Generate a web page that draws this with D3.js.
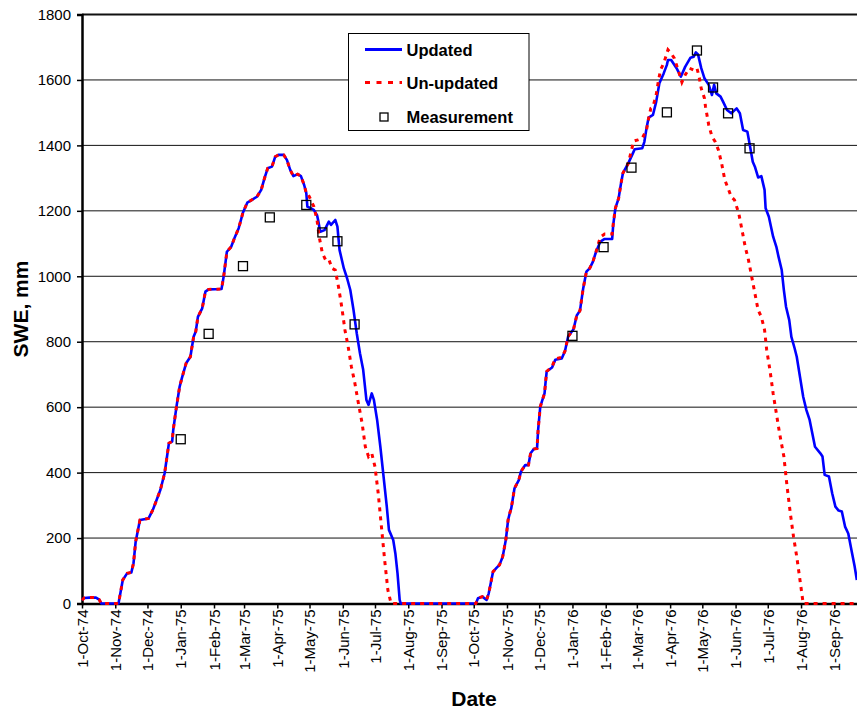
<!DOCTYPE html>
<html>
<head>
<meta charset="utf-8">
<script src="https://cdn.jsdelivr.net/npm/d3@7"></script>
<style>
  body { margin: 0; background: #fff; }
  svg { display: block; font-family: "Liberation Sans", Arial, sans-serif; }
</style>
</head>
<body>
<svg id="chart" width="857" height="713"></svg>
<script>
const parseDate = d3.timeParse("%Y-%m-%d");

// SWE (mm), [date, value]
const updated = [
  ["1974-10-01", 10], ["1974-10-03", 17], ["1974-10-08", 18], ["1974-10-14", 18], ["1974-10-17", 12], ["1974-10-19", 0],
  ["1974-11-04", 0], ["1974-11-08", 72], ["1974-11-12", 92], ["1974-11-16", 95], ["1974-11-18", 123], ["1974-11-20", 189],
  ["1974-11-24", 255], ["1974-12-02", 260], ["1974-12-06", 286], ["1974-12-13", 347], ["1974-12-17", 398], ["1974-12-19", 444],
  ["1974-12-21", 490], ["1974-12-24", 495], ["1974-12-25", 530], ["1974-12-28", 601], ["1974-12-31", 663], ["1975-01-02", 688],
  ["1975-01-06", 734], ["1975-01-10", 754], ["1975-01-13", 815], ["1975-01-15", 831], ["1975-01-17", 876], ["1975-01-21", 902],
  ["1975-01-24", 953], ["1975-01-27", 960], ["1975-02-08", 961], ["1975-02-10", 999], ["1975-02-13", 1075], ["1975-02-17", 1090],
  ["1975-02-20", 1116], ["1975-02-24", 1147], ["1975-02-28", 1195], ["1975-03-04", 1225], ["1975-03-08", 1233], ["1975-03-13", 1243],
  ["1975-03-17", 1264], ["1975-03-20", 1299], ["1975-03-23", 1330], ["1975-03-27", 1335], ["1975-03-30", 1365], ["1975-04-02", 1371],
  ["1975-04-07", 1371], ["1975-04-10", 1355], ["1975-04-13", 1325], ["1975-04-16", 1306], ["1975-04-20", 1312], ["1975-04-23", 1306],
  ["1975-04-26", 1279], ["1975-04-28", 1254], ["1975-04-29", 1213], ["1975-05-02", 1208], ["1975-05-05", 1203], ["1975-05-08", 1187],
  ["1975-05-09", 1172], ["1975-05-11", 1136], ["1975-05-15", 1141], ["1975-05-19", 1167], ["1975-05-21", 1157], ["1975-05-25", 1172],
  ["1975-05-27", 1152], ["1975-05-29", 1080], ["1975-06-02", 1024], ["1975-06-05", 994], ["1975-06-08", 958], ["1975-06-11", 897],
  ["1975-06-14", 826], ["1975-06-17", 765], ["1975-06-20", 714], ["1975-06-23", 622], ["1975-06-25", 607], ["1975-06-28", 642],
  ["1975-06-30", 622], ["1975-07-03", 561], ["1975-07-06", 479], ["1975-07-09", 388], ["1975-07-12", 296], ["1975-07-14", 225],
  ["1975-07-18", 194], ["1975-07-20", 153], ["1975-07-22", 92], ["1975-07-24", 11], ["1975-07-25", 0],
  ["1975-10-03", 0], ["1975-10-05", 16], ["1975-10-09", 21], ["1975-10-13", 11], ["1975-10-15", 31], ["1975-10-19", 97],
  ["1975-10-22", 108], ["1975-10-25", 118], ["1975-10-28", 143], ["1975-10-31", 196], ["1975-11-02", 255], ["1975-11-04", 281],
  ["1975-11-05", 291], ["1975-11-08", 352], ["1975-11-12", 377], ["1975-11-14", 403], ["1975-11-18", 423], ["1975-11-21", 423],
  ["1975-11-23", 459], ["1975-11-26", 472], ["1975-11-29", 474], ["1975-11-30", 530], ["1975-12-02", 601], ["1975-12-04", 622],
  ["1975-12-06", 642], ["1975-12-07", 678], ["1975-12-08", 709], ["1975-12-13", 721], ["1975-12-16", 745], ["1975-12-22", 749],
  ["1975-12-25", 771], ["1975-12-28", 816], ["1976-01-02", 838], ["1976-01-05", 880], ["1976-01-08", 895], ["1976-01-11", 963],
  ["1976-01-14", 1014], ["1976-01-17", 1024], ["1976-01-20", 1044], ["1976-01-23", 1075], ["1976-01-27", 1106], ["1976-01-31", 1114],
  ["1976-02-07", 1114], ["1976-02-08", 1157], ["1976-02-10", 1208], ["1976-02-13", 1238], ["1976-02-15", 1279], ["1976-02-17", 1315],
  ["1976-02-22", 1345], ["1976-02-27", 1381], ["1976-02-28", 1388], ["1976-03-06", 1391], ["1976-03-08", 1411], ["1976-03-10", 1452],
  ["1976-03-12", 1485], ["1976-03-16", 1493], ["1976-03-19", 1533], ["1976-03-22", 1590], ["1976-03-26", 1620], ["1976-03-29", 1646],
  ["1976-03-30", 1661], ["1976-04-02", 1661], ["1976-04-07", 1636], ["1976-04-11", 1610], ["1976-04-15", 1640], ["1976-04-20", 1668],
  ["1976-04-23", 1671], ["1976-04-25", 1684], ["1976-04-27", 1678], ["1976-04-30", 1636], ["1976-05-03", 1605], ["1976-05-07", 1585],
  ["1976-05-10", 1554], ["1976-05-12", 1585], ["1976-05-14", 1559], ["1976-05-18", 1549], ["1976-05-21", 1529], ["1976-05-24", 1508],
  ["1976-05-28", 1498], ["1976-06-02", 1513], ["1976-06-05", 1498], ["1976-06-08", 1447], ["1976-06-12", 1442], ["1976-06-14", 1406],
  ["1976-06-17", 1350], ["1976-06-19", 1335], ["1976-06-22", 1302], ["1976-06-25", 1306], ["1976-06-28", 1264], ["1976-06-29", 1208],
  ["1976-07-02", 1182], ["1976-07-06", 1121], ["1976-07-09", 1090], ["1976-07-11", 1060], ["1976-07-14", 1019], ["1976-07-16", 958],
  ["1976-07-18", 907], ["1976-07-21", 866], ["1976-07-23", 815], ["1976-07-26", 780], ["1976-07-28", 754], ["1976-07-31", 693],
  ["1976-08-03", 632], ["1976-08-06", 591], ["1976-08-09", 561], ["1976-08-14", 479], ["1976-08-19", 459], ["1976-08-21", 449],
  ["1976-08-23", 393], ["1976-08-27", 388], ["1976-08-30", 337], ["1976-09-02", 296], ["1976-09-05", 284], ["1976-09-08", 281],
  ["1976-09-11", 235], ["1976-09-14", 214], ["1976-09-17", 163], ["1976-09-20", 112], ["1976-09-22", 72]
];

const unupdated = [
  ["1974-10-01", 10], ["1974-10-03", 17], ["1974-10-08", 18], ["1974-10-14", 18], ["1974-10-17", 12], ["1974-10-19", 0],
  ["1974-11-04", 0], ["1974-11-08", 72], ["1974-11-12", 92], ["1974-11-16", 95], ["1974-11-18", 123], ["1974-11-20", 189],
  ["1974-11-24", 255], ["1974-12-02", 260], ["1974-12-06", 286], ["1974-12-13", 347], ["1974-12-17", 398], ["1974-12-19", 444],
  ["1974-12-21", 490], ["1974-12-24", 495], ["1974-12-25", 530], ["1974-12-28", 601], ["1974-12-31", 663], ["1975-01-02", 688],
  ["1975-01-06", 734], ["1975-01-10", 754], ["1975-01-13", 815], ["1975-01-15", 831], ["1975-01-17", 876], ["1975-01-21", 902],
  ["1975-01-24", 953], ["1975-01-27", 960], ["1975-02-08", 961], ["1975-02-10", 999], ["1975-02-13", 1075], ["1975-02-17", 1090],
  ["1975-02-20", 1116], ["1975-02-24", 1147], ["1975-02-28", 1195], ["1975-03-04", 1225], ["1975-03-08", 1233], ["1975-03-13", 1243],
  ["1975-03-17", 1264], ["1975-03-20", 1299], ["1975-03-23", 1330], ["1975-03-27", 1335], ["1975-03-30", 1365], ["1975-04-02", 1371],
  ["1975-04-07", 1371], ["1975-04-10", 1355], ["1975-04-13", 1325], ["1975-04-16", 1306], ["1975-04-20", 1312], ["1975-04-23", 1306],
  ["1975-04-26", 1279], ["1975-04-28", 1254], ["1975-04-29", 1255], ["1975-05-02", 1235], ["1975-05-05", 1213], ["1975-05-08", 1172],
  ["1975-05-10", 1121], ["1975-05-13", 1070], ["1975-05-16", 1050], ["1975-05-19", 1052], ["1975-05-22", 1024], ["1975-05-25", 1019],
  ["1975-05-28", 968], ["1975-05-31", 907], ["1975-06-03", 836], ["1975-06-06", 785], ["1975-06-09", 724], ["1975-06-12", 678],
  ["1975-06-15", 622], ["1975-06-19", 551], ["1975-06-22", 479], ["1975-06-25", 449], ["1975-06-28", 459], ["1975-07-01", 418],
  ["1975-07-04", 337], ["1975-07-07", 235], ["1975-07-10", 133], ["1975-07-13", 41], ["1975-07-16", 0],
  ["1975-10-03", 0], ["1975-10-05", 16], ["1975-10-09", 21], ["1975-10-13", 11], ["1975-10-15", 31], ["1975-10-19", 97],
  ["1975-10-22", 108], ["1975-10-25", 118], ["1975-10-28", 143], ["1975-10-31", 196], ["1975-11-02", 255], ["1975-11-04", 281],
  ["1975-11-05", 291], ["1975-11-08", 352], ["1975-11-12", 377], ["1975-11-14", 403], ["1975-11-18", 423], ["1975-11-21", 423],
  ["1975-11-23", 459], ["1975-11-26", 472], ["1975-11-29", 474], ["1975-11-30", 530], ["1975-12-02", 601], ["1975-12-04", 622],
  ["1975-12-06", 642], ["1975-12-07", 678], ["1975-12-08", 709], ["1975-12-13", 724], ["1975-12-16", 748], ["1975-12-22", 752],
  ["1975-12-25", 771], ["1975-12-28", 816], ["1976-01-02", 838], ["1976-01-05", 880], ["1976-01-08", 895], ["1976-01-11", 963],
  ["1976-01-14", 1014], ["1976-01-17", 1024], ["1976-01-20", 1044], ["1976-01-23", 1075], ["1976-01-27", 1120], ["1976-01-31", 1129],
  ["1976-02-07", 1129], ["1976-02-08", 1160], ["1976-02-10", 1208], ["1976-02-13", 1238], ["1976-02-15", 1279], ["1976-02-17", 1315],
  ["1976-02-22", 1345], ["1976-02-25", 1385], ["1976-02-27", 1413], ["1976-03-02", 1417], ["1976-03-06", 1422], ["1976-03-10", 1447],
  ["1976-03-12", 1483], ["1976-03-14", 1513], ["1976-03-16", 1518], ["1976-03-19", 1554], ["1976-03-21", 1595], ["1976-03-23", 1630],
  ["1976-03-26", 1651], ["1976-03-28", 1671], ["1976-03-30", 1692], ["1976-04-02", 1681], ["1976-04-05", 1666], ["1976-04-09", 1625],
  ["1976-04-12", 1593], ["1976-04-15", 1615], ["1976-04-19", 1636], ["1976-04-23", 1630], ["1976-04-26", 1636], ["1976-04-28", 1610],
  ["1976-04-30", 1574], ["1976-05-03", 1544], ["1976-05-04", 1518], ["1976-05-07", 1462], ["1976-05-10", 1427], ["1976-05-13", 1411],
  ["1976-05-16", 1386], ["1976-05-19", 1345], ["1976-05-22", 1294], ["1976-05-25", 1269], ["1976-05-28", 1243], ["1976-05-31", 1233],
  ["1976-06-04", 1192], ["1976-06-07", 1141], ["1976-06-10", 1090], ["1976-06-13", 1050], ["1976-06-16", 999], ["1976-06-19", 948],
  ["1976-06-22", 897], ["1976-06-25", 876], ["1976-06-28", 836], ["1976-06-30", 775], ["1976-07-03", 714], ["1976-07-06", 642],
  ["1976-07-09", 581], ["1976-07-12", 520], ["1976-07-16", 449], ["1976-07-19", 357], ["1976-07-22", 276], ["1976-07-25", 204],
  ["1976-07-28", 143], ["1976-07-31", 72], ["1976-08-03", 0], ["1976-09-30", 0]
];

const measDates = [
  "1975-01-01", "1975-01-27", "1975-02-28", "1975-03-25", "1975-04-28", "1975-05-13", "1975-05-27", "1975-06-12",
  "1976-01-01", "1976-01-30", "1976-02-25", "1976-03-29", "1976-04-26", "1976-05-11", "1976-05-25", "1976-06-14"
];
const measSWE = [502, 824, 1031, 1180, 1218, 1134, 1107, 853, 818, 1089, 1332, 1501, 1690, 1577, 1498, 1391];

const yTicks = [0, 200, 400, 600, 800, 1000, 1200, 1400, 1600, 1800];
const legendItems = ["Updated", "Un-updated", "Measurement"];

const chartW = 857;
const plotLeft = 82;
const plotTop = 14.5;
const plotBottom = 603.5;
const dayPx = 1.0732;

const svg = d3.select("#chart");
const start = parseDate("1974-10-01");
const end = parseDate("1976-09-30");

const x = d3.scaleTime()
  .domain([start, end])
  .range([plotLeft, plotLeft + d3.timeDay.count(start, end) * dayPx]);
const y = d3.scaleLinear().domain([0, 1800]).range([plotBottom, plotTop]);

// gridlines
svg.append("g")
  .selectAll("line")
  .data(yTicks.filter(d => d > 0))
  .join("line")
  .attr("x1", plotLeft).attr("x2", chartW)
  .attr("y1", d => y(d)).attr("y2", d => y(d))
  .attr("stroke", "#111")
  .attr("stroke-width", d => d === 1800 ? 2.2 : 1);

// y axis
const yAxis = svg.append("g")
  .attr("transform", `translate(${plotLeft},0)`)
  .call(d3.axisLeft(y).tickValues(yTicks).tickSize(5).tickPadding(6).tickFormat(d3.format("d")));
yAxis.select(".domain").attr("stroke", "#000").attr("stroke-width", 2.5);
yAxis.selectAll(".tick line").attr("stroke", "#000").attr("stroke-width", 1.5);
yAxis.selectAll("text")
  .attr("font-size", 15)
  .attr("font-family", "Liberation Sans, Arial, sans-serif")
  .attr("fill", "#000");

// x axis
const months = d3.timeMonth.range(start, d3.timeDay.offset(end, 1));
const xAxis = svg.append("g")
  .attr("transform", `translate(0,${plotBottom})`)
  .call(d3.axisBottom(x).tickValues(months).tickSize(5).tickSizeOuter(0).tickFormat(d3.timeFormat("%-d-%b-%y")));
xAxis.select(".domain").attr("stroke", "#000").attr("stroke-width", 2.5);
xAxis.selectAll(".tick line").attr("stroke", "#000").attr("stroke-width", 1.5);
xAxis.selectAll("text")
  .attr("font-size", 15)
  .attr("font-family", "Liberation Sans, Arial, sans-serif")
  .attr("fill", "#000")
  .attr("text-anchor", "end")
  .attr("transform", "rotate(-90)")
  .attr("x", -6)
  .attr("y", 0)
  .attr("dy", "0.35em");

const line = d3.line()
  .x(d => x(parseDate(d[0])))
  .y(d => y(d[1]));

svg.append("path")
  .datum(updated)
  .attr("d", line)
  .attr("fill", "none")
  .attr("stroke", "#0000ff")
  .attr("stroke-width", 2.6)
  .attr("stroke-linejoin", "round");

svg.append("path")
  .datum(unupdated)
  .attr("d", line)
  .attr("fill", "none")
  .attr("stroke", "#ff0000")
  .attr("stroke-width", 3)
  .attr("stroke-dasharray", "4,5");

// measurements
const sq = 9;
svg.append("g")
  .selectAll("rect")
  .data(measDates.map((d, i) => [d, measSWE[i]]))
  .join("rect")
  .attr("x", d => x(parseDate(d[0])) - sq / 2)
  .attr("y", d => y(d[1]) - sq / 2)
  .attr("width", sq)
  .attr("height", sq)
  .attr("fill", "none")
  .attr("stroke", "#000")
  .attr("stroke-width", 1.3);

// axis titles
svg.append("text")
  .attr("transform", "translate(28,309) rotate(-90)")
  .attr("text-anchor", "middle")
  .attr("font-size", 21)
  .attr("font-weight", "bold")
  .text("SWE, mm");

svg.append("text")
  .attr("x", 474)
  .attr("y", 706)
  .attr("text-anchor", "middle")
  .attr("font-size", 21)
  .attr("font-weight", "bold")
  .text("Date");

// legend
const legend = svg.append("g").attr("transform", "translate(348.5,33.5)");
legend.append("rect")
  .attr("width", 180.5)
  .attr("height", 97)
  .attr("fill", "#fff")
  .attr("stroke", "#000")
  .attr("stroke-width", 1);

const rowY = [16, 49, 83.5];
legend.append("line")
  .attr("x1", 16.5).attr("x2", 53.5)
  .attr("y1", rowY[0]).attr("y2", rowY[0])
  .attr("stroke", "#0000ff").attr("stroke-width", 3);
legend.append("line")
  .attr("x1", 16.5).attr("x2", 53.5)
  .attr("y1", rowY[1]).attr("y2", rowY[1])
  .attr("stroke", "#ff0000").attr("stroke-width", 3)
  .attr("stroke-dasharray", "5,6.5");
legend.append("rect")
  .attr("x", 35.5 - 4).attr("y", rowY[2] - 4)
  .attr("width", 8).attr("height", 8)
  .attr("fill", "none").attr("stroke", "#000").attr("stroke-width", 1.3);

legend.selectAll("text.item")
  .data(legendItems)
  .join("text")
  .attr("class", "item")
  .attr("x", 58)
  .attr("y", (d, i) => rowY[i] + 6)
  .attr("font-size", 16.5)
  .attr("font-weight", "bold")
  .text(d => d);
</script>
</body>
</html>
